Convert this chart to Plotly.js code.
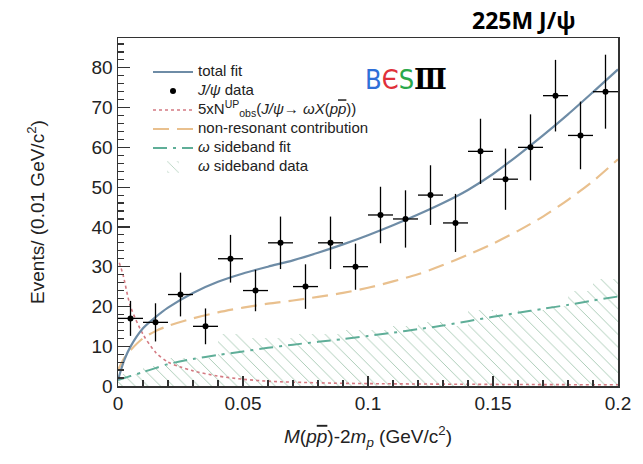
<!DOCTYPE html>
<html><head><meta charset="utf-8">
<script src="https://cdn.plot.ly/plotly-3.0.1.min.js"></script>
<style>body{margin:0;background:#fff}#chart{width:643px;height:464px}</style>
</head><body><div id="chart"></div>
<script>
// J/psi data (bin centres, counts, errors)
const dataX = [0.005,0.015,0.025,0.035,0.045,0.055,0.065,0.075,0.085,0.095,0.105,0.115,0.125,0.135,0.145,0.155,0.165,0.175,0.185,0.195];
const dataY = [17,16,23,15,32,24,36,25,36,30,43,42,48,41,59,52,60,73,63,74];
const dataErr = [4.4,4.8,5.5,4.5,6.0,5.2,6.6,5.6,6.6,5.8,7.1,7.2,7.5,7.3,8.2,7.7,8.3,9.0,8.5,9.3];
const binHalf = [0.005,0.005,0.005,0.005,0.005,0.005,0.005,0.005,0.005,0.005,0.005,0.005,0.005,0.005,0.005,0.005,0.005,0.005,0.005,0.005];

// omega sideband data (hatched histogram)
const sbY = [3,5,7,7,13,12,12,13,13,14,14,15,16,15,19,18,19,20,24,27];

// curves
const curveX = [0,0.0025,0.005,0.01,0.015,0.02,0.03,0.04,0.05,0.06,0.07,0.08,0.09,0.1,0.11,0.12,0.13,0.14,0.15,0.16,0.17,0.18,0.19,0.2];
const totalFit = [1.5,6.5,9.9,14.5,17.3,19.7,23.4,26.2,28.3,30.0,31.6,33.5,35.6,37.9,40.4,43.1,46.0,49.3,53.3,58.0,63.0,68.3,73.9,79.6];
const nonRes = [4,7,9,12,13.8,15.1,17.0,18.5,19.7,20.7,21.5,22.4,23.4,24.7,26.3,28.1,30.4,33.0,35.8,39.0,42.6,46.8,51.5,57.0];
const sbFit = [1.5,2.0,2.5,3.5,4.5,5.5,6.8,7.8,8.7,9.6,10.4,11.1,11.8,12.6,13.4,14.3,15.2,16.3,17.4,18.4,19.4,20.4,21.5,22.5];
const sigX = [0.0005,0.002,0.005,0.01,0.015,0.02,0.025,0.03,0.04,0.05,0.06,0.08,0.1,0.15,0.2];
const sigY = [31,28,20,13,8.5,6,4.8,3.8,2.5,1.7,1.2,0.8,0.6,0.4,0.3];

const FONT = 'Liberation Sans, Arial, sans-serif';
const L = s => '<span style="font-size:15px">' + s + '</span>';
const PBAR = '<span style="text-decoration:overline">p</span>';

const traces = [
  {type:'bar', x:dataX, y:sbY, width:0.01, name:L('<i>ω</i> sideband data'), legendrank:6,
   marker:{color:'rgba(0,0,0,0)', line:{width:0},
     pattern:{shape:'\\', fgcolor:'#a3c7b0', bgcolor:'rgba(0,0,0,0)', size:9, solidity:0.1}}},
  {type:'scatter', mode:'lines', x:curveX, y:sbFit, name:L('<i>ω</i> sideband fit'), legendrank:5,
   line:{color:'#5fae98', width:2, dash:'14px,6px,3px,6px', shape:'spline', smoothing:0.8}},
  {type:'scatter', mode:'lines', x:curveX, y:nonRes, name:L('non-resonant contribution'), legendrank:4,
   line:{color:'#e9c08e', width:2.2, dash:'16px,8px', shape:'spline', smoothing:0.8}},
  {type:'scatter', mode:'lines', x:sigX, y:sigY, name:L('5xN<sup>UP</sup><sub>obs</sub>(<i>J/ψ</i>→ <i>ωX</i>(<i>p' + PBAR + '</i>))'), legendrank:3,
   line:{color:'#d47a82', width:1.6, dash:'dot', shape:'spline', smoothing:0.8}},
  {type:'scatter', mode:'lines', x:curveX, y:totalFit, name:L('total fit'), legendrank:1,
   line:{color:'#6e8ca6', width:2.2, shape:'spline', smoothing:0.8}},
  {type:'scatter', mode:'markers', x:dataX, y:dataY, name:L('<i>J/ψ</i> data'), legendrank:2,
   marker:{color:'#000', size:6},
   error_y:{type:'data', array:dataErr, visible:true, color:'#000', thickness:1.3, width:0},
   error_x:{type:'data', array:binHalf, visible:true, color:'#000', thickness:1.3, width:0}}
];

const layout = {
  width:643, height:464,
  margin:{l:118, r:25, t:38, b:78},
  paper_bgcolor:'#fff', plot_bgcolor:'#fff',
  font:{family:FONT, color:'#222'},
  bargap:0,
  showlegend:true,
  legend:{x:0.06, y:0.944, xanchor:'left', yanchor:'top', bgcolor:'rgba(0,0,0,0)',
          font:{size:11, family:FONT, color:'#222'}, itemwidth:40, tracegroupgap:0},
  xaxis:{range:[0,0.2], showgrid:false, zeroline:false, showline:true, mirror:true,
         linecolor:'#333', linewidth:1.5, ticks:'inside', ticklen:10, tickwidth:1.2, tickcolor:'#333',
         tickvals:[0,0.05,0.1,0.15,0.2], ticktext:['0','0.05','0.1','0.15','0.2'],
         minor:{dtick:0.01, ticks:'inside', ticklen:6, tickcolor:'#333'},
         tickfont:{size:19, family:FONT, color:'#222'},
         title:{text:'<i>M</i>(<i>p' + PBAR + '</i>)-2<i>m</i><sub><i>p</i></sub> (GeV/c<sup>2</sup>)', font:{size:19, family:FONT, color:'#222'}, standoff:16}},
  yaxis:{range:[0,87.5], showgrid:false, zeroline:false, showline:true, mirror:true,
         linecolor:'#333', linewidth:1.5, ticks:'inside', ticklen:12, tickwidth:1.2, tickcolor:'#333',
         dtick:10, minor:{dtick:2, ticks:'inside', ticklen:6, tickcolor:'#333'},
         tickfont:{size:19, family:FONT, color:'#222'},
         title:{text:'Events/ (0.01 GeV/c<sup>2</sup>)', font:{size:19, family:FONT, color:'#222'}, standoff:42}},
  annotations:[
    {xref:'paper', yref:'paper', x:0.81, y:1.0, yanchor:'bottom', xanchor:'center', showarrow:false,
     text:'<b>225M J/ψ</b>', font:{size:23, family:'Open Sans, Liberation Sans, sans-serif', color:'#000'}},
    {xref:'paper', yref:'paper', x:0.49, y:0.88, xanchor:'left', yanchor:'middle', showarrow:false,
     text:'<span style="color:#2f6fd8">B</span><span style="color:#e0303a">Є</span><span style="color:#2aa84a">S</span><span style="font-family:DejaVu Serif;font-weight:bold;color:#000">Ⅲ</span>',
     font:{size:27, family:'DejaVu Sans Condensed, Liberation Sans Narrow, sans-serif', color:'#000'}}
  ]
};

Plotly.newPlot('chart', traces, layout, {displayModeBar:false, staticPlot:true});
</script></body></html>
